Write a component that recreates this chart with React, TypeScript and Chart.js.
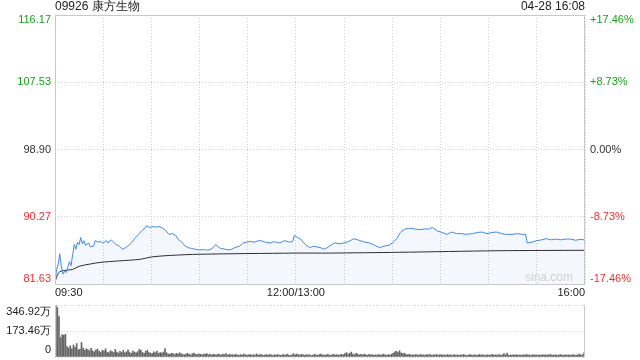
import React, { useEffect, useRef } from 'react';
import { Chart, registerables } from 'chart.js';

Chart.register(...registerables);

const TITLE = '09926 康方生物';
const STAMP = '04-28 16:08';
const PRE_CLOSE = 98.9;
const PRICE_MIN = 81.63;
const PRICE_MAX = 116.17;
const priceTicks = [81.63, 90.27, 98.9, 107.53, 116.17];
const priceTickLabels = ['81.63', '90.27', '98.90', '107.53', '116.17'];
const pctLabels = ['-17.46%', '-8.73%', '0.00%', '+8.73%', '+17.46%'];
const timeLabels = ['09:30', '12:00/13:00', '16:00'];
const timeLabelMinutes = [0, 150, 330];
const gridMinutes = [0, 30, 60, 90, 120, 150, 180, 210, 240, 270, 300, 330];
const volTicks = [0, 173.46, 346.92];
const volLabels = ['0', '173.46万', '346.92万'];

// minutes after 09:30 (lunch break removed) and last price
const priceMinutes = [
  0, 1, 2, 3, 4, 5, 6, 7, 8, 9, 10, 11, 12, 13, 14, 15, 16, 17, 18, 19,
  21, 22, 24, 25, 27, 28, 30, 32, 33, 35, 36, 38, 40, 42, 44, 46, 48, 50, 52, 54,
  56, 57, 59, 61, 63, 65, 67, 69, 71, 73, 75, 77, 79, 81, 83, 85, 87, 90, 93, 95,
  98, 100, 101, 103, 106, 109, 112, 115, 117, 119, 121, 124, 126, 128, 131, 134, 136, 138, 140, 143,
  146, 148, 149, 151, 153, 155, 157, 159, 161, 163, 165, 168, 171, 174, 177, 180, 183, 186, 190, 193,
  196, 199, 202, 205, 208, 210, 213, 215, 218, 221, 224, 227, 230, 233, 235, 238, 241, 244, 247, 250,
  253, 256, 260, 263, 266, 269, 272, 275, 278, 281, 285, 288, 291, 293, 294, 297, 300, 303, 306, 309,
  312, 315, 318, 321, 324, 327, 330,
];
const prices = [
  81.9, 83.5, 84.2, 85.5, 83.8, 82.9, 83.3, 83.1, 83.8, 84.5, 84.0, 85.4, 86.7, 86.1, 87.0, 86.7, 87.6, 86.8, 87.2, 86.6,
  86.9, 86.4, 86.5, 87.2, 87.0, 87.1, 86.9, 87.2, 86.9, 87.3, 87.1, 86.7, 86.5, 86.1, 86.3, 86.6, 87.0, 87.6, 88.0, 88.45,
  88.8, 89.1, 88.9, 89.0, 88.95, 89.0, 88.8, 88.5, 88.0, 88.1, 87.9, 87.3, 87.0, 86.5, 86.3, 86.2, 86.1, 86.0, 86.05, 85.95,
  86.2, 86.7, 86.5, 86.2, 86.1, 86.0, 86.3, 86.5, 86.9, 87.0, 87.1, 87.0, 87.15, 87.2, 87.0, 86.9, 87.05, 87.0, 86.9, 87.2,
  87.0, 87.1, 87.9, 87.6, 87.4, 86.9, 86.5, 86.3, 86.5, 86.4, 86.3, 86.1, 86.5, 86.9, 86.8, 86.9, 87.1, 87.45, 87.2, 87.0,
  86.9, 86.6, 86.3, 86.5, 86.6, 86.9, 87.5, 88.25, 88.7, 88.8, 88.7, 88.6, 88.7, 88.7, 88.9, 88.45, 88.25, 88.0, 88.3, 88.1,
  88.1, 88.0, 88.1, 88.25, 88.3, 88.1, 88.25, 88.3, 88.1, 88.0, 88.0, 88.1, 88.0, 88.0, 86.9, 87.0, 87.2, 87.3, 87.45, 87.3,
  87.4, 87.3, 87.4, 87.4, 87.25, 87.35, 87.3,
];

const avgMinutes = [0, 2, 4, 7, 11, 15, 22, 28, 40, 53, 60, 72, 90, 150, 171, 214, 276, 330];
const avgPrices = [81.9, 83.0, 83.3, 83.4, 83.5, 83.9, 84.2, 84.4, 84.6, 84.8, 85.1, 85.3, 85.45, 85.6, 85.6, 85.7, 85.9, 85.96];

// volume per minute, in 万 shares
const volumes = [
  346.92, 330, 270, 130, 150, 145, 152, 70, 60, 75,
  55, 80, 65, 90, 48, 52, 97, 60, 45, 55,
  50, 42, 58, 40, 35, 48, 52, 38, 30, 45,
  40, 55, 33, 28, 42, 36, 30, 50, 32, 26,
  38, 30, 45, 27, 35, 48, 30, 24, 40, 33,
  28, 36, 52, 44, 30, 25, 38, 45, 30, 26,
  22, 35, 28, 40, 24, 30, 26, 33, 56, 28,
  20, 18, 25, 22, 16, 24, 19, 28, 22, 17,
  15, 20, 24, 18, 14, 22, 26, 19, 16, 21,
  18, 14, 20, 17, 23, 15, 19, 13, 18, 16,
  14, 20, 17, 12, 19, 15, 22, 13, 18, 14,
  16, 12, 19, 14, 11, 17, 13, 20, 15, 12,
  14, 18, 11, 16, 13, 21, 12, 15, 17, 11,
  13, 16, 12, 18, 14, 10, 15, 12, 17, 13,
  11, 14, 16, 12, 19, 13, 10, 15, 22, 14,
  20, 16, 12, 18, 14, 11, 16, 13, 15, 10,
  12, 18, 14, 11, 16, 20, 13, 15, 12, 17,
  14, 11, 15, 19, 13, 16, 12, 14, 18, 15,
  22, 30, 18, 25, 33, 20, 16, 24, 19, 14,
  17, 13, 20, 15, 12, 18, 14, 16, 11, 15,
  13, 17, 12, 15, 19, 14, 11, 16, 13, 18,
  25, 34, 38, 30, 42, 28, 22, 26, 18, 15,
  17, 13, 15, 12, 16, 14, 11, 18, 13, 15,
  12, 16, 14, 17, 11, 15, 13, 18, 12, 14,
  16, 12, 15, 11, 17, 13, 14, 10, 16, 12,
  14, 11, 15, 13, 17, 12, 10, 14, 16, 12,
  13, 15, 11, 14, 17, 12, 16, 10, 13, 15,
  12, 14, 18, 11, 15, 13, 16, 12, 14, 22,
  15, 26, 12, 14, 11, 16, 13, 15, 12, 14,
  11, 15, 13, 17, 12, 14, 10, 16, 13, 15,
  12, 14, 11, 16, 13, 15, 12, 14, 17, 13,
  11, 15, 13, 12, 16, 14, 11, 15, 13, 12,
  14, 12, 16, 13, 11, 15, 20, 13, 16, 30,
];

const FONT = "'Liberation Sans', Arial, Helvetica, sans-serif";
const GREEN = '#1a9f1a';
const RED = '#ee2e2e';
const NEUTRAL = '#333333';
const GRID = '#cfcfcf';
const FRAME = '#c8c8c8';

const colorFor = (v: number) => (v > PRE_CLOSE + 0.001 ? GREEN : v < PRE_CLOSE - 0.001 ? RED : NEUTRAL);

const priceOverlay = {
  id: 'priceOverlay',
  afterDraw(chart: any) {
    const { ctx, chartArea } = chart;
    const ys = chart.scales.y;
    const xs = chart.scales.x;
    ctx.save();
    // frame
    ctx.strokeStyle = FRAME;
    ctx.lineWidth = 1;
    ctx.strokeRect(chartArea.left + 0.5, chartArea.top + 0.5, chartArea.right - chartArea.left - 1, chartArea.bottom - chartArea.top);
    // title
    ctx.font = `12px ${FONT}`;
    ctx.fillStyle = '#222';
    ctx.textBaseline = 'middle';
    ctx.textAlign = 'left';
    ctx.fillText(TITLE, chartArea.left, 7);
    ctx.textAlign = 'right';
    ctx.fillText(STAMP, chartArea.right, 7);
    // y labels
    ctx.font = `11px ${FONT}`;
    priceTicks.forEach((v, i) => {
      let py = ys.getPixelForValue(v);
      if (i === priceTicks.length - 1) py += 5;
      else if (i === 0) py -= 5;
      ctx.fillStyle = colorFor(v);
      ctx.textAlign = 'right';
      ctx.fillText(priceTickLabels[i], chartArea.left - 4, py);
      ctx.textAlign = 'left';
      ctx.fillText(pctLabels[i], chartArea.right + 5, py);
    });
    // x labels
    ctx.fillStyle = '#222';
    timeLabels.forEach((t, i) => {
      const px = xs.getPixelForValue(timeLabelMinutes[i]);
      ctx.textAlign = i === 0 ? 'left' : i === timeLabels.length - 1 ? 'right' : 'center';
      ctx.fillText(t, px, chartArea.bottom + 9);
    });
    // watermark
    ctx.font = `12px ${FONT}`;
    ctx.fillStyle = '#d0d0d0';
    ctx.textAlign = 'right';
    ctx.fillText('sina.com', chartArea.right - 12, chartArea.bottom - 6);
    ctx.restore();
  },
};

const volOverlay = {
  id: 'volOverlay',
  afterDraw(chart: any) {
    const { ctx, chartArea } = chart;
    const ys = chart.scales.y;
    ctx.save();
    ctx.strokeStyle = FRAME;
    ctx.lineWidth = 1;
    ctx.beginPath();
    ctx.moveTo(chartArea.left + 0.5, chartArea.top);
    ctx.lineTo(chartArea.left + 0.5, chartArea.bottom);
    ctx.moveTo(chartArea.right - 0.5, chartArea.top);
    ctx.lineTo(chartArea.right - 0.5, chartArea.bottom);
    ctx.stroke();
    ctx.font = `11px ${FONT}`;
    ctx.fillStyle = '#222';
    ctx.textAlign = 'right';
    ctx.textBaseline = 'middle';
    volTicks.forEach((v, i) => {
      let py = ys.getPixelForValue(v);
      if (i === volTicks.length - 1) py += 7;
      else if (i === 0) py -= 7;
      ctx.fillText(volLabels[i], chartArea.left - 4, py);
    });
    ctx.restore();
  },
};

export default function App() {
  const priceRef = useRef<HTMLCanvasElement>(null);
  const volRef = useRef<HTMLCanvasElement>(null);

  useEffect(() => {
    const priceChart = new Chart(priceRef.current as HTMLCanvasElement, {
      type: 'line',
      data: {
        datasets: [
          {
            data: priceMinutes.map((m, i) => ({ x: m, y: prices[i] })),
            borderColor: '#4188e8',
            borderWidth: 1,
            pointRadius: 0,
            tension: 0,
            fill: 'start',
            backgroundColor: 'rgba(65,136,232,0.06)',
          },
          {
            data: avgMinutes.map((m, i) => ({ x: m, y: avgPrices[i] })),
            borderColor: '#2a2a2a',
            borderWidth: 1,
            pointRadius: 0,
            tension: 0.3,
            fill: false,
          },
        ],
      },
      options: {
        animation: false,
        responsive: false,
        maintainAspectRatio: false,
        layout: { padding: { left: 55, right: 55, top: 15, bottom: 16 } },
        plugins: { legend: { display: false }, tooltip: { enabled: false } },
        scales: {
          x: {
            type: 'linear',
            min: 0,
            max: 330,
            ticks: { display: false },
            grid: { color: GRID, drawTicks: false, tickLength: 0 },
            border: { display: false, dash: [1, 2] },
            afterBuildTicks: (s: any) => {
              s.ticks = gridMinutes.map((v) => ({ value: v }));
            },
          },
          y: {
            type: 'linear',
            min: PRICE_MIN,
            max: PRICE_MAX,
            ticks: { display: false },
            grid: { color: GRID, drawTicks: false, tickLength: 0 },
            border: { display: false, dash: [1, 2] },
            afterBuildTicks: (s: any) => {
              s.ticks = priceTicks.map((v) => ({ value: v }));
            },
          },
        },
      },
      plugins: [priceOverlay],
    } as any);

    const volChart = new Chart(volRef.current as HTMLCanvasElement, {
      type: 'bar',
      data: {
        labels: volumes.map((_, i) => String(i)),
        datasets: [
          {
            data: volumes,
            backgroundColor: '#666666',
            barThickness: 1,
          },
        ],
      },
      options: {
        animation: false,
        responsive: false,
        maintainAspectRatio: false,
        layout: { padding: { left: 55, right: 55, top: 5, bottom: 3 } },
        plugins: { legend: { display: false }, tooltip: { enabled: false } },
        scales: {
          x: {
            type: 'category',
            offset: true,
            ticks: { display: false },
            grid: { display: false, drawTicks: false },
            border: { display: false },
          },
          y: {
            type: 'linear',
            min: 0,
            max: 346.92,
            ticks: { display: false },
            grid: { color: GRID, drawTicks: false, tickLength: 0 },
            border: { display: false, dash: [1, 2] },
            afterBuildTicks: (s: any) => {
              s.ticks = volTicks.map((v) => ({ value: v }));
            },
          },
        },
      },
      plugins: [volOverlay],
    } as any);

    return () => {
      priceChart.destroy();
      volChart.destroy();
    };
  }, []);

  return (
    <div style={{ position: 'fixed', left: 0, top: 0, width: 640, height: 360, background: '#fff' }}>
      <canvas ref={priceRef} width={640} height={300} style={{ position: 'absolute', left: 0, top: 0, width: 640, height: 300 }} />
      <canvas ref={volRef} width={640} height={60} style={{ position: 'absolute', left: 0, top: 300, width: 640, height: 60 }} />
    </div>
  );
}
